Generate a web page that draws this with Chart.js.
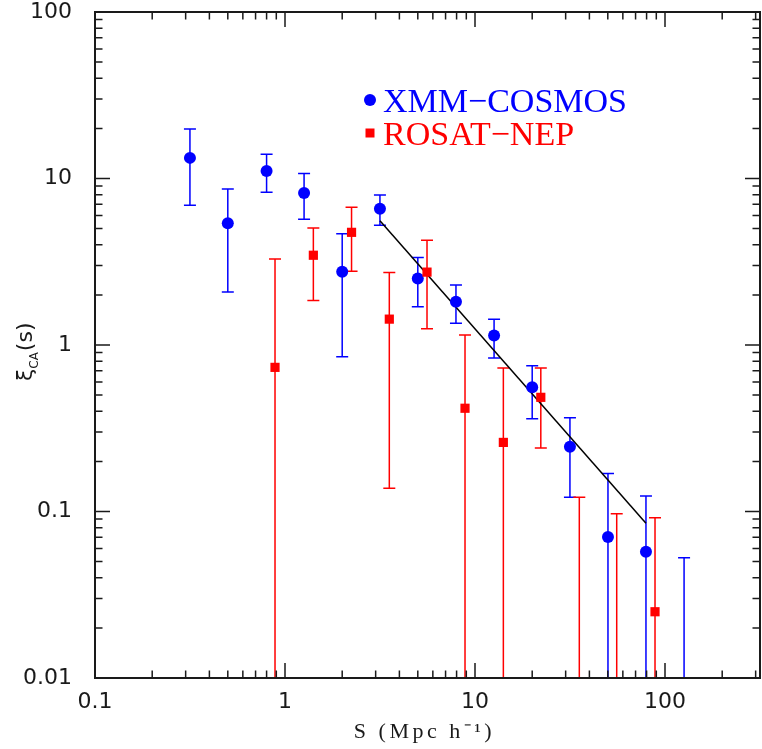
<!DOCTYPE html>
<html lang="en">
<head>
  <meta charset="UTF-8" />
  <title>Cross-correlation function</title>
  <script src="https://cdn.jsdelivr.net/npm/chart.js"></script>
  <style>
    body { margin: 0; background: #fff; }
    #xiChart { display: block; }
  </style>
</head>
<body>
  <canvas id="xiChart" width="762" height="749"></canvas>

<script>
  // XMM-COSMOS points: separation, xi, upper and lower error ends (null = off the plot)
  const blueS  = [0.316, 0.50, 0.80, 1.26, 2.0, 3.16, 5.0, 7.94, 12.6, 20.0, 31.6, 50.1, 79.4, 126];
  const blueXi = [13.3, 5.38, 11.1, 8.18, 2.75, 6.59, 2.51, 1.82, 1.14, 0.557, 0.245, 0.0703, 0.0574, null];
  const blueHi = [19.8, 8.65, 13.97, 10.7, 4.66, 7.96, 3.35, 2.29, 1.43, 0.751, 0.366, 0.169, 0.124, 0.0528];
  const blueLo = [6.9, 2.08, 8.26, 5.69, 0.85, 5.23, 1.70, 1.35, 0.835, 0.361, 0.1216, null, null, null];

  // ROSAT-NEP points
  const redS  = [0.886, 1.41, 2.24, 3.54, 5.59, 8.86, 14.1, 22.2, 35.4, 55.7, 88.6];
  const redXi = [0.734, 3.46, 4.75, 1.43, 2.74, 0.417, 0.26, 0.485, null, null, 0.025];
  const redHi = [3.28, 5.04, 6.71, 2.73, 4.25, 1.15, 0.728, 0.728, 0.1216, 0.097, 0.0918];
  const redLo = [null, 1.85, 2.77, 0.138, 1.25, null, null, 0.241, null, null, null];

  // power-law fit, end points
  const fitS  = [3.16, 79.4];
  const fitXi = [5.58, 0.0849];

  const xTickVals = [0.1, 1, 10, 100];
  const xTickText = ['0.1', '1', '10', '100'];
  const yTickVals = [0.01, 0.1, 1, 10, 100];

  const BLUE = '#0000ff';
  const RED = '#ff0000';
  const INK = '#1a1a1a';
  const PLOT_RIGHT = 760;

  function pts(xs, ys) {
    return xs.map((x, i) => ({ x: x, y: ys[i] }));
  }

  function isDecade(v, list) {
    return list.some(t => Math.abs(Math.log10(v) - Math.log10(t)) < 1e-6);
  }

  // stretch the plot box out to the right edge of the frame
  const plotBox = {
    id: 'plotBox',
    afterLayout(chart) {
      const a = chart.chartArea;
      const x = chart.scales.x;
      a.right = PLOT_RIGHT;
      a.width = a.right - a.left;
      x.left = a.left;
      x.right = PLOT_RIGHT;
      x.width = x.right - x.left;
      x.configure();
    }
  };

  // vertical error bars with caps, clipped to the plot area
  const errorBars = {
    id: 'errorBars',
    beforeDatasetsDraw(chart) {
      const { ctx, chartArea: a, scales: { x, y } } = chart;
      const sets = [
        { s: blueS, hi: blueHi, lo: blueLo, color: BLUE },
        { s: redS, hi: redHi, lo: redLo, color: RED }
      ];
      ctx.save();
      ctx.beginPath();
      ctx.rect(a.left, a.top, a.right - a.left, a.bottom - a.top);
      ctx.clip();
      ctx.lineWidth = 1.5;
      sets.forEach(set => {
        ctx.strokeStyle = set.color;
        set.s.forEach((s, i) => {
          const px = x.getPixelForValue(s);
          const top = y.getPixelForValue(set.hi[i]);
          const bot = set.lo[i] == null ? a.bottom + 5 : y.getPixelForValue(set.lo[i]);
          ctx.beginPath();
          ctx.moveTo(px, top);
          ctx.lineTo(px, bot);
          ctx.moveTo(px - 6, top);
          ctx.lineTo(px + 6, top);
          if (set.lo[i] != null) {
            ctx.moveTo(px - 6, bot);
            ctx.lineTo(px + 6, bot);
          }
          ctx.stroke();
        });
      });
      ctx.restore();
    }
  };

  // box frame with inward ticks on all four sides, x labels, legend and axis titles
  const frame = {
    id: 'frame',
    afterDraw(chart) {
      const { ctx, chartArea: a, scales: { x, y } } = chart;
      ctx.save();
      ctx.strokeStyle = INK;
      ctx.lineWidth = 1.5;
      ctx.beginPath();
      for (let d = -1; d <= 2; d++) {
        for (let m = 1; m <= 9; m++) {
          const v = m * Math.pow(10, d);
          if (v > x.max * 1.0001) continue;
          const px = x.getPixelForValue(v);
          const len = m === 1 ? 15 : 7.5;
          ctx.moveTo(px, a.bottom); ctx.lineTo(px, a.bottom - len);
          ctx.moveTo(px, a.top); ctx.lineTo(px, a.top + len);
        }
      }
      for (let d = -2; d <= 1; d++) {
        for (let m = 1; m <= 9; m++) {
          const py = y.getPixelForValue(m * Math.pow(10, d));
          const len = m === 1 ? 15 : 7.5;
          ctx.moveTo(a.left, py); ctx.lineTo(a.left + len, py);
          ctx.moveTo(a.right, py); ctx.lineTo(a.right - len, py);
        }
      }
      ctx.stroke();
      ctx.lineWidth = 2;
      ctx.strokeRect(a.left, a.top, a.right - a.left, a.bottom - a.top);

      // x tick labels
      ctx.fillStyle = INK;
      ctx.font = '22px "DejaVu Sans"';
      ctx.textAlign = 'center';
      ctx.textBaseline = 'alphabetic';
      xTickVals.forEach((v, i) => {
        ctx.fillText(xTickText[i], x.getPixelForValue(v), a.bottom + 30);
      });
      ctx.textAlign = 'left';

      // legend
      ctx.fillStyle = BLUE;
      ctx.beginPath();
      ctx.arc(370, 100, 6, 0, Math.PI * 2);
      ctx.fill();
      ctx.font = '34px "Liberation Serif"';
      ctx.fillText('XMM\u2212COSMOS', 383, 112);
      ctx.fillStyle = RED;
      ctx.fillRect(365.5, 128.5, 9, 9);
      ctx.fillText('ROSAT\u2212NEP', 383, 145);

      // x axis title, spaced out
      ctx.fillStyle = INK;
      ctx.font = '22px "Liberation Serif"';
      ctx.letterSpacing = '3.5px';
      const xt = 'S (Mpc h\u207B\u00B9)';
      const xw = ctx.measureText(xt).width;
      ctx.fillText(xt, (a.left + a.right) / 2 - 3 - xw / 2, 738);
      ctx.letterSpacing = '0px';

      // y axis title: xi_CA(s)
      ctx.translate(32, 381);
      ctx.rotate(-Math.PI / 2);
      ctx.font = '22px "DejaVu Sans"';
      ctx.fillText('\u03BE', 0, 0);
      let w = ctx.measureText('\u03BE').width;
      ctx.font = '12px "DejaVu Sans"';
      ctx.fillText('CA', w, 6);
      w += ctx.measureText('CA').width + 1;
      ctx.font = '22px "DejaVu Sans"';
      ctx.fillText('(s)', w, 0);
      ctx.restore();
    }
  };

  const ctx = document.getElementById('xiChart').getContext('2d');
  new Chart(ctx, {
    type: 'scatter',
    data: {
      datasets: [
        {
          label: 'fit',
          data: pts(fitS, fitXi),
          showLine: true,
          borderColor: '#000',
          borderWidth: 1.5,
          pointRadius: 0,
          order: 3
        },
        {
          label: 'XMM\u2212COSMOS',
          data: pts(blueS, blueXi),
          pointStyle: 'circle',
          pointRadius: 6,
          pointBorderWidth: 0,
          backgroundColor: BLUE,
          borderColor: BLUE,
          order: 2
        },
        {
          label: 'ROSAT\u2212NEP',
          data: pts(redS, redXi),
          pointStyle: 'rect',
          pointRadius: 6.5,
          pointBorderWidth: 0,
          backgroundColor: RED,
          borderColor: RED,
          order: 1
        }
      ]
    },
    options: {
      responsive: false,
      animation: false,
      devicePixelRatio: 1,
      layout: { padding: { top: 12, right: 2, left: 0, bottom: 71 } },
      plugins: {
        legend: { display: false },
        tooltip: { enabled: false }
      },
      scales: {
        x: {
          type: 'logarithmic',
          display: false,
          min: 0.1,
          max: Math.pow(10, 2.5)
        },
        y: {
          type: 'logarithmic',
          min: 0.01,
          max: 100,
          grid: { display: false },
          border: { display: false },
          afterFit(scale) {
            scale.width = 95;
            scale.paddingTop = 0;
            scale.paddingBottom = 0;
          },
          ticks: {
            autoSkip: false,
            padding: 15,
            color: INK,
            font: { family: 'DejaVu Sans', size: 22 },
            callback: v => isDecade(v, yTickVals) ? String(Number(v.toPrecision(1))) : ''
          }
        }
      }
    },
    plugins: [plotBox, errorBars, frame]
  });
</script>
</body>
</html>
